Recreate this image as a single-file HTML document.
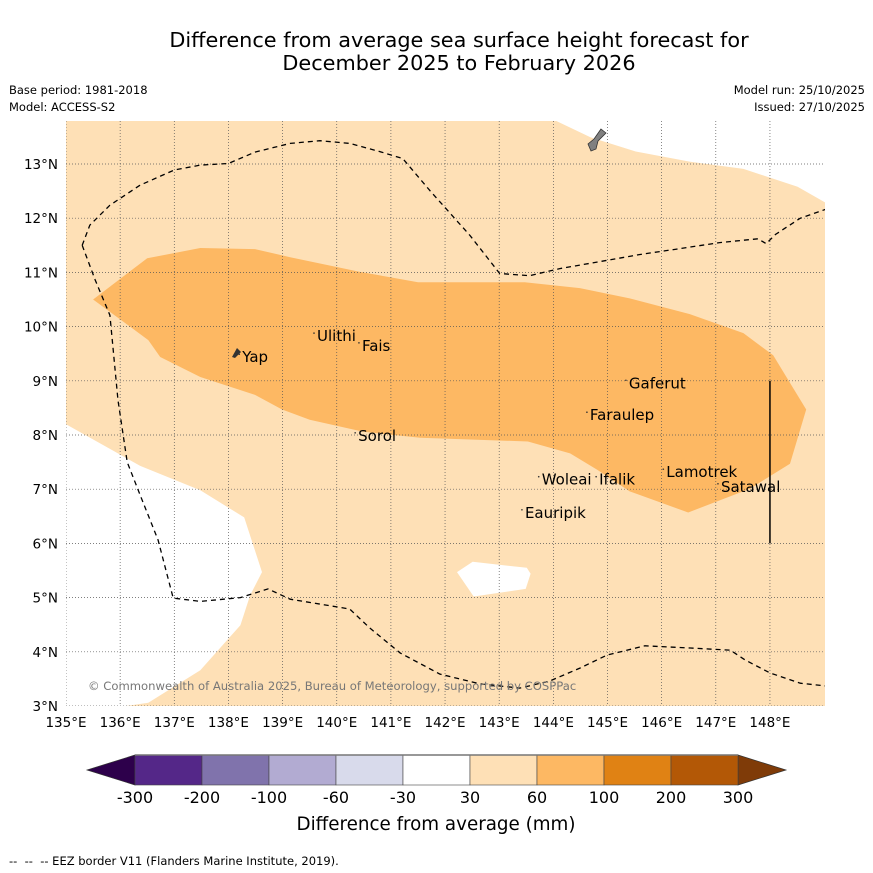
<!DOCTYPE html>
<html><head><meta charset="utf-8"><style>
body{margin:0;background:#fff}
svg{display:block;font-family:"DejaVu Sans","Liberation Sans",sans-serif}
</style></head><body>
<svg id="c" width="873" height="873" viewBox="0 0 873 873">
<rect width="873" height="873" fill="#fff"/>
<text x="459" y="47" font-size="20.8" text-anchor="middle">Difference from average sea surface height forecast for</text>
<text x="459" y="70" font-size="20.8" text-anchor="middle">December 2025 to February 2026</text>
<text x="9" y="94" font-size="11.5">Base period: 1981-2018</text>
<text x="9" y="111" font-size="11.5">Model: ACCESS-S2</text>
<text x="865" y="94" font-size="11.5" text-anchor="end">Model run: 25/10/2025</text>
<text x="865" y="111" font-size="11.5" text-anchor="end">Issued: 27/10/2025</text>
<g id="map"></g>
<g id="cbar"></g>
<text x="436" y="830" font-size="18.3" text-anchor="middle">Difference from average (mm)</text>
<text x="9" y="865" font-size="11.5" xml:space="preserve">--  --  -- EEZ border V11 (Flanders Marine Institute, 2019).</text>
</svg>
<script>
const lonTicks=[135,136,137,138,139,140,141,142,143,144,145,146,147,148];
const latTicks=[3,4,5,6,7,8,9,10,11,12,13];
const cbBounds=[-300,-200,-100,-60,-30,30,60,100,200,300];
const cbColors=["#542788","#8073ac","#b2abd2","#d8daeb","#ffffff","#fee0b6","#fdb863","#e08214","#b35806"];
const cbLow="#2d004b", cbHigh="#7f3b08";
const lightArea=[[135,13.8],[144.04,13.8],[144.69,13.49],[145.52,13.23],[146.53,13.04],[147.51,12.91],[148.51,12.58],[149.02,12.29],[149.02,3],[136.11,3],[136.52,3.06],[137.48,3.66],[138.22,4.49],[138.4,5.04],[138.62,5.47],[138.29,6.48],[137.48,6.98],[136.37,7.43],[135,8.2]];
const holeArea=[[142.22,5.47],[142.51,5.66],[143.51,5.55],[143.58,5.44],[143.49,5.16],[142.53,5.02]];
const medArea=[[135.5,10.5],[136.5,11.26],[137.48,11.45],[138.49,11.43],[139.14,11.28],[140.43,11.01],[141.5,10.82],[143.47,10.82],[144.49,10.71],[145.41,10.52],[146.52,10.23],[147.51,9.88],[148.06,9.47],[148.67,8.47],[148.37,7.47],[147.63,7.01],[146.49,6.57],[145.41,6.96],[144.81,7.36],[144.31,7.66],[143.53,7.88],[141.54,7.95],[140.49,8.06],[139.5,8.28],[138.99,8.47],[138.49,8.74],[137.48,9.07],[136.74,9.44],[136.52,9.75]];
const eezNorth=[[135.3,11.5],[135.44,11.87],[135.81,12.24],[136.37,12.61],[137.0,12.89],[137.48,12.98],[138.0,13.01],[138.49,13.22],[139.14,13.38],[139.69,13.43],[140.24,13.38],[140.79,13.23],[141.22,13.1],[141.72,12.51],[142.46,11.68],[143.01,10.98],[143.56,10.94],[144.12,11.07],[144.86,11.2],[145.6,11.33],[146.34,11.44],[147.07,11.55],[147.78,11.62],[147.93,11.53],[148.1,11.7],[148.56,12.0],[149.02,12.16]];
const eezSouth=[[135.3,11.5],[135.54,10.86],[135.81,10.21],[135.96,8.64],[136.13,7.5],[136.37,6.89],[136.7,6.06],[136.98,4.99],[137.48,4.93],[138.22,5.0],[138.73,5.16],[139.14,4.97],[139.69,4.88],[140.24,4.79],[140.61,4.44],[141.17,3.98],[141.9,3.59],[142.64,3.41],[143.38,3.33],[143.93,3.46],[144.49,3.7],[144.99,3.94],[145.69,4.11],[146.53,4.07],[147.27,4.03],[147.54,3.85],[148.0,3.61],[148.56,3.42],[149.02,3.37]];
const islandNames=["Yap","Ulithi","Fais","Gaferut","Faraulep","Sorol","Lamotrek","Woleai","Ifalik","Satawal","Eauripik"];
const islandLon=[138.2,139.58,140.41,145.34,144.62,140.34,146.03,143.73,144.79,147.04,143.42];
const islandLat=[9.49,9.88,9.70,9.01,8.42,8.04,7.37,7.23,7.23,7.10,6.62];
const X0=66,PX=54.15,Y3=706,PY=54.2,TOP=121,RIGHT=825,BOT=706;
const sx=lon=>X0+(lon-135)*PX, sy=lat=>Y3-(lat-3)*PY;
const NS="http://www.w3.org/2000/svg";
function mk(t,a,p){const e=document.createElementNS(NS,t);for(const k in a)e.setAttribute(k,a[k]);p.appendChild(e);return e;}
const map=document.getElementById('map');
const pts=a=>a.map(p=>sx(p[0]).toFixed(1)+","+sy(p[1]).toFixed(1)).join(" ");
const clip=mk('clipPath',{id:'mc'},map);mk('rect',{x:X0,y:TOP,width:RIGHT-X0,height:BOT-TOP},clip);
const g=mk('g',{'clip-path':'url(#mc)'},map);
let e=mk('polygon',{points:pts(lightArea),fill:cbColors[5]},g);


e=mk('polygon',{points:pts(holeArea),fill:'#fff'},g);


e=mk('polygon',{points:pts(medArea),fill:cbColors[6]},g);


lonTicks.forEach(l=>{const x=sx(l);const ln=mk('line',{x1:x,x2:x,y1:TOP,y2:BOT,stroke:'#555','stroke-width':0.7,'stroke-dasharray':'1,2'},g);


const t=mk('text',{x:x,y:BOT+21,'font-size':13.5,'text-anchor':'middle'},map);t.textContent=l+"°E";

});
latTicks.forEach(l=>{const y=sy(l);const ln=mk('line',{x1:X0,x2:RIGHT,y1:y,y2:y,stroke:'#555','stroke-width':0.7,'stroke-dasharray':'1,2'},g);


const t=mk('text',{x:58,y:y+5,'font-size':13.5,'text-anchor':'end'},map);t.textContent=l+"°N";

});
[eezNorth,eezSouth].forEach(a=>{const p=mk('polyline',{points:pts(a),fill:'none',stroke:'#000','stroke-width':1.3,'stroke-dasharray':'5,4'},g);

});
e=mk('line',{x1:sx(148),x2:sx(148),y1:sy(9),y2:sy(6),stroke:'#000','stroke-width':1.5},g);


e=mk('path',{d:'M601,129 L606,133 L598,141 L596,149 L591,151 L588,144 L594,139 Z',fill:'#808080',stroke:'#333','stroke-width':0.8},g);


e=mk('path',{d:'M232,357 L237,348 L241,352 L235,358 Z',fill:'#333'},g);


islandNames.forEach((n,i)=>{const x=sx(islandLon[i]),y=sy(islandLat[i]);
const d=mk('circle',{cx:x,cy:y,r:0.8,fill:'#333'},g);


const t=mk('text',{x:x+3,y:y+8,'font-size':15},g);t.textContent=n;

});
e=mk('text',{x:88,y:690,'font-size':11.6,fill:'#777'},g);e.textContent="© Commonwealth of Australia 2025, Bureau of Meteorology, supported by COSPPac";


const cb=document.getElementById('cbar');
const CX0=135,CX1=738,CY=755,CH=30,n=cbBounds.length-1,w=(CX1-CX0)/n;
e=mk('polygon',{points:`${CX0},${CY} ${CX0},${CY+CH} 87,${CY+CH/2}`,fill:cbLow,stroke:'#333','stroke-width':0.7},cb);


e=mk('polygon',{points:`${CX1},${CY} ${CX1},${CY+CH} 786,${CY+CH/2}`,fill:cbHigh,stroke:'#333','stroke-width':0.7},cb);


cbColors.forEach((c,i)=>{const r=mk('rect',{x:CX0+i*w,y:CY,width:w,height:CH,fill:c,stroke:'#444','stroke-width':0.6},cb);

});
mk('line',{x1:CX0,x2:CX1,y1:CY,y2:CY,stroke:'#777','stroke-width':1.5},cb);
cbBounds.forEach((b,i)=>{const t=mk('text',{x:CX0+i*w,y:803,'font-size':16,'text-anchor':'middle'},cb);t.textContent=b;

});
</script>
</body></html>
